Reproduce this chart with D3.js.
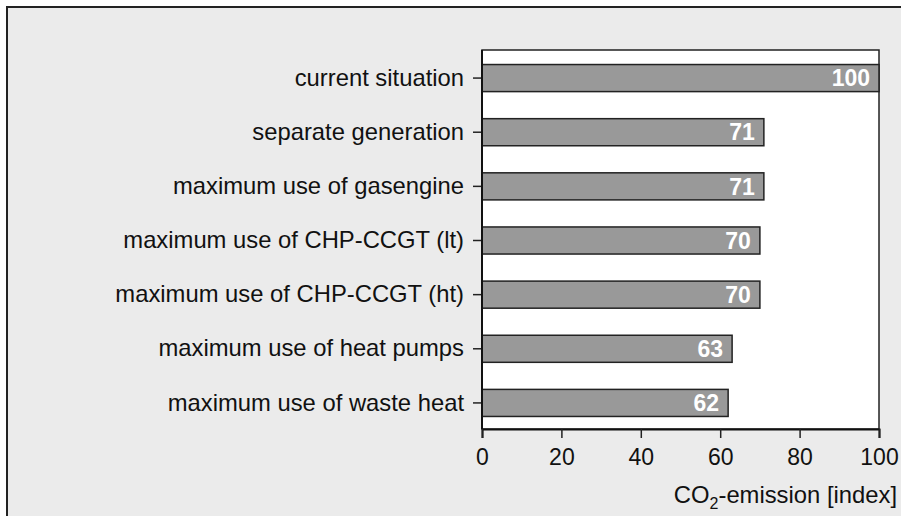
<!DOCTYPE html>
<html>
<head>
<meta charset="utf-8">
<script src="https://cdn.jsdelivr.net/npm/d3@7"></script>
<style>
  body { margin: 0; background: #fff; }
  svg text { font-family: "Liberation Sans", Arial, sans-serif; }
</style>
</head>
<body>
<div id="chart"></div>
<script>
// data
const scenarios = [
  'current situation',
  'separate generation',
  'maximum use of gasengine',
  'maximum use of CHP-CCGT (lt)',
  'maximum use of CHP-CCGT (ht)',
  'maximum use of heat pumps',
  'maximum use of waste heat'
];
const emissions = [100, 71, 71, 70, 70, 63, 62];
const xTicks = [0, 20, 40, 60, 80, 100];

const width = 901,
      height = 516;
const plotTop = 50,
      plotBottom = 429;

const svg = d3.select('#chart')
  .append('svg')
  .attr('width', width)
  .attr('height', height);

// grey panel with a frame on top and left
svg.append('rect')
  .attr('x', 7).attr('y', 7)
  .attr('width', width - 7).attr('height', height - 7)
  .attr('fill', '#ebebeb');
svg.append('path')
  .attr('d', 'M7,' + height + 'V7H' + width)
  .attr('fill', 'none')
  .attr('stroke', '#222')
  .attr('stroke-width', 2);

const x = d3.scaleLinear()
  .domain([0, 100])
  .range([482, 879]);

const y = d3.scaleBand()
  .domain(scenarios)
  .range([plotTop + 1, plotBottom + 1])
  .paddingInner(0.5)
  .paddingOuter(0.25);

// plot area
svg.append('rect')
  .attr('x', x(0)).attr('y', plotTop)
  .attr('width', x(100) - x(0)).attr('height', plotBottom - plotTop)
  .attr('fill', '#fff')
  .attr('stroke', '#222')
  .attr('stroke-width', 1.5);

// bars
svg.append('g')
  .selectAll('rect')
  .data(emissions)
  .enter()
  .append('rect')
  .attr('x', x(0))
  .attr('y', (d, i) => y(scenarios[i]))
  .attr('width', d => x(d) - x(0))
  .attr('height', y.bandwidth())
  .attr('fill', '#999')
  .attr('stroke', '#222')
  .attr('stroke-width', 1.5);

// value labels
svg.append('g')
  .selectAll('text')
  .data(emissions)
  .enter()
  .append('text')
  .attr('x', d => x(d) - 9)
  .attr('y', (d, i) => y(scenarios[i]) + y.bandwidth() / 2)
  .attr('dy', '0.36em')
  .attr('text-anchor', 'end')
  .attr('fill', '#fff')
  .style('font-size', '23px')
  .style('font-weight', 'bold')
  .text(d => d);

// y axis
const yAxis = svg.append('g')
  .attr('transform', 'translate(' + x(0) + ',0)')
  .call(d3.axisLeft(y).tickSize(9).tickPadding(9));
yAxis.select('.domain').remove();
yAxis.selectAll('line').attr('stroke', '#222').attr('stroke-width', 1.5);
yAxis.selectAll('text')
  .attr('fill', '#111')
  .style('font-size', '23.8px')
  .style('font-family', '"Liberation Sans", Arial, sans-serif');

svg.append('line')
  .attr('x1', x(0)).attr('x2', x(0))
  .attr('y1', plotTop).attr('y2', plotBottom)
  .attr('stroke', '#111')
  .attr('stroke-width', 2);

// x axis
const xAxis = svg.append('g')
  .attr('transform', 'translate(0,' + plotBottom + ')')
  .call(d3.axisBottom(x).tickValues(xTicks).tickSize(9).tickPadding(11).tickFormat(d3.format('d')));
xAxis.select('.domain').attr('stroke', '#111').attr('stroke-width', 2);
xAxis.selectAll('line').attr('stroke', '#222').attr('stroke-width', 1.5);
xAxis.selectAll('text')
  .attr('fill', '#111')
  .style('font-size', '23px')
  .style('font-family', '"Liberation Sans", Arial, sans-serif');

// axis title with subscript
const title = svg.append('text')
  .attr('x', 897)
  .attr('y', 503)
  .attr('text-anchor', 'end')
  .attr('fill', '#111')
  .style('font-size', '23.8px');
title.append('tspan').text('CO');
title.append('tspan').attr('dy', 6).style('font-size', '16px').text('2');
title.append('tspan').attr('dy', -6).text('-emission [index]');
</script>
</body>
</html>
